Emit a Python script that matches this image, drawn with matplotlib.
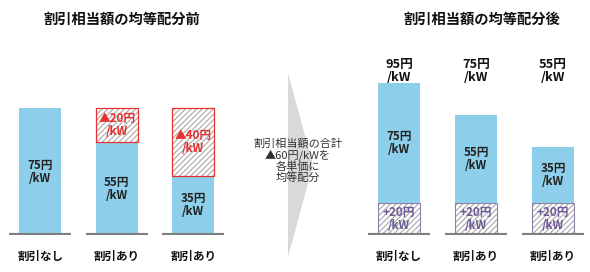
import matplotlib
matplotlib.use('Agg')
import matplotlib.pyplot as plt
from matplotlib.patches import Polygon
from matplotlib.transforms import blended_transform_factory

plt.rcParams['font.family'] = ['Noto Sans CJK JP', 'DejaVu Sans']
plt.rcParams['hatch.linewidth'] = 0.8

categories = ['割引なし', '割引あり', '割引あり']
before_base = [75, 55, 35]
before_discount = [0, 20, 40]
after_base = [75, 55, 35]
after_add = [20, 20, 20]

BLUE = '#8DCFEA'
GRAY = '#7F7F7F'
RED = '#E83030'
PURPLE = '#6E5A96'

W, H = 590, 272
fig = plt.figure(figsize=(W / 100, H / 100), dpi=100)


def fx(x):
    return x / W


def fy(y):
    return 1 - y / H


def panel(left_px, spacing_px, px_per_unit):
    ax = fig.add_axes([fx(left_px), fy(235), 3 * spacing_px / W, 100 * px_per_unit / H])
    ax.set_xlim(-0.5, 2.5)
    ax.set_ylim(0, 100)
    ax.axis('off')
    return ax


def label(ax, x, y, s, color='#222222', size=8.4, va='center', **kw):
    ax.text(x, y, s, ha='center', va=va, fontsize=size, fontweight='bold',
            color=color, linespacing=1.0, **kw)


# ---- left panel: before
ax1 = panel(2, 76.5, 1.69)
xs = range(len(categories))
ax1.bar(xs, before_base, width=0.55, color=BLUE)
ax1.bar(xs, before_discount, bottom=before_base, width=0.55, color='white',
        edgecolor='#A8A8A8', hatch='//////', lw=0)
for i in xs:
    if before_discount[i]:
        ax1.bar(i, before_discount[i], bottom=before_base[i], width=0.55,
                fill=False, edgecolor=RED, lw=0.9)
        label(ax1, i, before_base[i] + before_discount[i] / 2,
              f'▲{before_discount[i]}円\n/kW', color=RED)
    label(ax1, i, before_base[i] / 2, f'{before_base[i]}円\n/kW')
    ax1.hlines(0, i - 0.405, i + 0.405, color=GRAY, lw=3)
    ax1.text(i, -12.5, categories[i], ha='center', va='center',
             fontsize=8.3, fontweight='bold', color='#111111')

# ---- right panel: after
ax2 = panel(360.5, 77, 1.6)
top_tr = blended_transform_factory(ax2.transData, fig.transFigure)
ax2.bar(xs, after_add, width=0.545, color='white', edgecolor='#A8A8A8',
        hatch='//////', lw=0)
ax2.bar(xs, after_add, width=0.545, fill=False, edgecolor='#8C80A8', lw=0.8)
ax2.bar(xs, after_base, bottom=after_add, width=0.545, color=BLUE)
for i in xs:
    total = after_base[i] + after_add[i]
    label(ax2, i, after_add[i] / 2, f'+{after_add[i]}円\n/kW', color=PURPLE)
    label(ax2, i, after_add[i] + after_base[i] / 2, f'{after_base[i]}円\n/kW')
    label(ax2, i, fy(71), f'{total}円\n/kW', color='#111111', size=9.2,
          transform=top_tr)
    ax2.hlines(0, i - 0.4, i + 0.4, color=GRAY, lw=3)
    ax2.text(i, -13.5, categories[i], ha='center', va='center',
             fontsize=8.3, fontweight='bold', color='#111111')

# ---- titles
fig.text(fx(122), fy(20), '割引相当額の均等配分前', ha='center', va='center',
         fontsize=10.3, fontweight='bold', color='#111111')
fig.text(fx(482), fy(20), '割引相当額の均等配分後', ha='center', va='center',
         fontsize=10.3, fontweight='bold', color='#111111')

# ---- arrow
arrow = Polygon([(fx(288), fy(73)), (fx(313), fy(165)), (fx(288), fy(257))],
                closed=True, transform=fig.transFigure, color='#D9D9D9', lw=0)
fig.patches.append(arrow)
fig.text(fx(298), fy(161), '割引相当額の合計\n▲60円/kWを\n各単価に\n均等配分',
         ha='center', va='center', fontsize=8.0, color='#333333',
         linespacing=1.05)

fig.savefig('out.png', dpi=100)
